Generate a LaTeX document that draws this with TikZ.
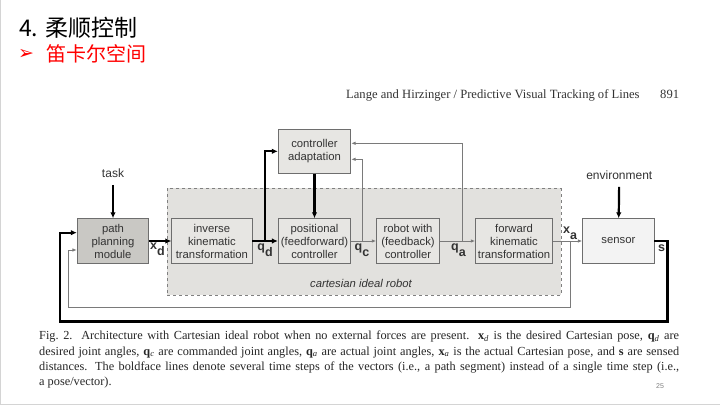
\documentclass[tikz,border=0pt]{standalone}
\usepackage{fontspec}
\setmainfont{Liberation Serif}
\setsansfont{Liberation Sans}
\newfontfamily\cjk{Noto Sans CJK SC}
\newfontfamily\dingfont{DejaVu Sans}
\definecolor{slidered}{HTML}{FF0000}
\definecolor{boxline}{HTML}{6E6E6E}
\definecolor{boxfill}{HTML}{E7E6E3}
\definecolor{darkfill}{HTML}{C9C8C4}
\definecolor{lightfill}{HTML}{F3F3F3}
\definecolor{regionfill}{HTML}{E2E1DE}
\definecolor{thinline}{HTML}{7A7A7A}
\definecolor{labeltext}{HTML}{333333}
\definecolor{slideborder}{HTML}{D4D4D4}
\usetikzlibrary{arrows.meta, positioning, calc}
\tikzset{
  box/.style={
    draw=boxline, fill=#1, line width=0.8pt,
    minimum height=44.6pt, inner sep=1pt,
    font=\sffamily\fontsize{11.3}{13}\selectfont,
    text=labeltext, align=center
  },
  box/.default=boxfill,
  region/.style={draw=gray, dashed, line width=0.7pt, fill=regionfill},
  thk/.style={-{Latex[length=6pt,width=5.5pt]}, line width=2.2pt, color=black},
  thn/.style={-{Latex[length=4.5pt,width=3.5pt]}, line width=0.9pt, color=thinline},
  sig/.style={font=\sffamily\bfseries\fontsize{12.5}{13}\selectfont, text=labeltext, inner sep=0pt},
  lbl/.style={font=\sffamily\fontsize{12}{14}\selectfont, text=labeltext},
}
\newcommand{\sigsub}[2]{#1\raisebox{-6pt}{#2}}

\begin{document}
\begin{tikzpicture}[x=1pt, y=-1pt]
  \useasboundingbox (0,0) rectangle (720,406);
  \fill[white] (0,0) rectangle (720,406);
  \draw[slideborder, line width=1.2pt] (0.6,0) -- (0.6,404.5) -- (720,404.5);

  % Slide heading
  \node[anchor=west, inner sep=0pt, font=\cjk\fontsize{23}{26}\selectfont] (title) at (19,28) {4. 柔顺控制};
  \node[anchor=west, inner sep=0pt, text=slidered, font=\dingfont\fontsize{19}{20}\selectfont] (bullet) at (18,54) {➢};
  \node[anchor=west, inner sep=0pt, text=slidered, font=\cjk\fontsize{20}{24}\selectfont] (subtitle) at (46,54) {笛卡尔空间};
  \node[anchor=base west, inner sep=0pt, text=black!80, font=\rmfamily\fontsize{12.6}{14}\selectfont] (runhead) at (346,99)
    {Lange and Hirzinger / Predictive Visual Tracking of Lines};
  \node[anchor=base west, inner sep=0pt, text=black!80, font=\rmfamily\fontsize{12.6}{14}\selectfont] (pageno) at (660,99) {891};

  % Cartesian ideal robot
  \node[region, minimum width=393.7pt, minimum height=106.7pt] (cir) at (364.2,241.7) {};
  \node[font=\sffamily\itshape\fontsize{11.3}{13}\selectfont, text=labeltext] (cirlbl) at (361,283) {cartesian ideal robot};

  % Blocks
  \node[box=darkfill, minimum width=71.4pt] (path) at (113,241) {path\\planning\\module};
  \node[box, minimum width=80.3pt] (inv) at (211.9,241) {inverse\\kinematic\\transformation};
  \node[box, minimum width=72.4pt] (pos) at (314.5,241) {positional\\(feedforward)\\controller};
  \node[box, minimum width=62.6pt] (rob) at (408,241) {robot with\\(feedback)\\controller};
  \node[box, minimum width=76.6pt] (fwd) at (514,241) {forward\\kinematic\\transformation};
  \node[box=lightfill, minimum width=71.3pt] (sensor) at (618.4,241) {sensor};
  \node[box, minimum width=72.4pt, minimum height=44pt] (adapt) at (314.5,151.3) {controller\\adaptation};

  \node[lbl] (task) at (113,173) {task};
  \node[lbl] (env) at (619.3,175) {environment};

  % Signals
  \node[sig] (xd) at (157.5,249) {\sigsub{x}{d}};
  \node[sig] (qd) at (265,250) {\sigsub{q}{d}};
  \node[sig] (qc) at (362,250) {\sigsub{q}{c}};
  \node[sig] (qa) at (458.5,250) {\sigsub{q}{a}};
  \node[sig] (xa) at (570,233) {\sigsub{x}{a}};
  \node[sig] (s) at (661.5,248) {s};

  \coordinate (jd) at (265.3,241);
  \coordinate (jc) at (362.7,241);
  \coordinate (ja) at (462.3,241);
  \coordinate (jx) at (570,241);
  \coordinate (ac) at ([yshift=-8pt]adapt.east);
  \coordinate (aa) at ([yshift=8pt]adapt.east);
  \coordinate (pin1) at ([yshift=8.3pt]path.west);
  \coordinate (pin2) at ([yshift=-9pt]path.west);
  \coordinate (fb1) at (570,307.5);
  \coordinate (fb2) at (68,307.5);
  \coordinate (sb1) at (667.5,321.5);
  \coordinate (sb2) at (59.6,321.5);

  % Connectors
  \draw[thk, shorten <=4pt] (task) -- (path);
  \draw[thk, shorten <=4pt] (env) -- (sensor);
  \draw[thk] (path) -- (inv);
  \draw[thk] (inv) -- (pos);
  \draw[thk] (jd) |- (adapt.west);
  \draw[thk] (adapt) -- (pos);
  \draw[thn] (pos) -- (rob);
  \draw[thn] (jc) |- (ac);
  \draw[thn] (rob) -- (fwd);
  \draw[thn] (ja) |- (aa);
  \draw[thn] (fwd) -- (sensor);
  \draw[thn] (jx) -- (fb1) -- (fb2) |- (pin2);
  \draw[thk] (sensor.east) -| (sb1) -- (sb2) |- (pin1);

  % Caption
  \node[anchor=north west, inner sep=0pt, text width=640pt, align=justify, text=black!85,
        font=\rmfamily\fontsize{12.3}{15.3}\selectfont] (caption) at (39,331)
    {Fig.~2. Architecture with Cartesian ideal robot when no external forces are present. \textbf{x}\textsubscript{\textit{d}} is the desired Cartesian pose, \textbf{q}\textsubscript{\textit{d}} are\linebreak
     desired joint angles, \textbf{q}\textsubscript{\textit{c}} are commanded joint angles, \textbf{q}\textsubscript{\textit{a}} are actual joint angles, \textbf{x}\textsubscript{\textit{a}} is the actual Cartesian pose, and \textbf{s} are sensed\linebreak
     distances. The boldface lines denote several time steps of the vectors (i.e., a path segment) instead of a single time step (i.e.,\linebreak
     a pose/vector).};
  \node[font=\sffamily\fontsize{7}{8}\selectfont, text=gray] (pagenum) at (660,386) {25};
\end{tikzpicture}
\end{document}
